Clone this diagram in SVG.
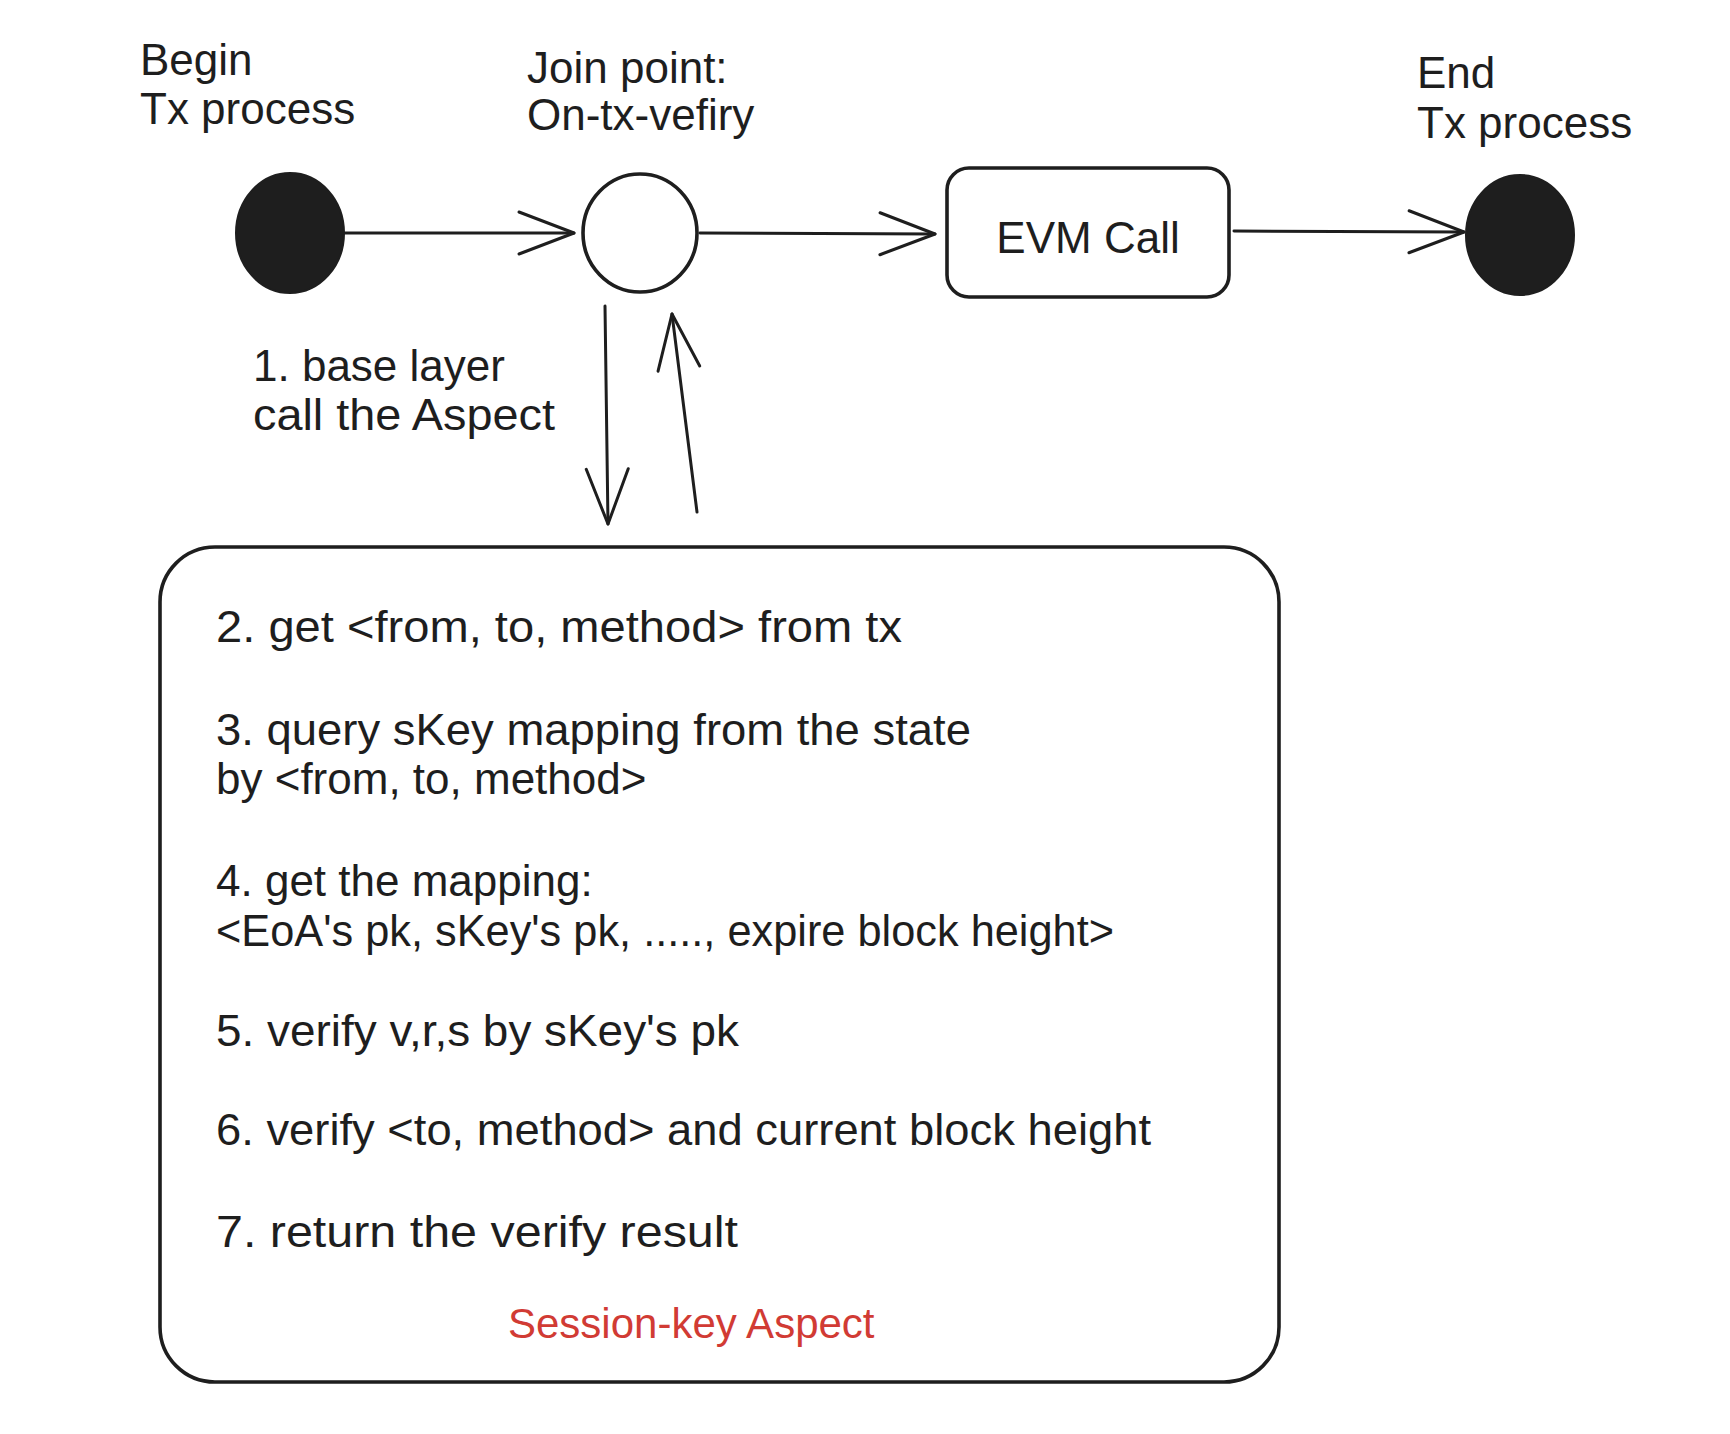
<svg xmlns="http://www.w3.org/2000/svg" width="1730" height="1434" viewBox="0 0 1730 1434">
<style>
text{font-family:"Liberation Sans",Arial,sans-serif;font-size:44px;fill:#1e1e1e}
.red{fill:#d13b34;font-size:42px}
.ln{fill:none;stroke:#1e1e1e;stroke-width:3;stroke-linecap:round}
.box{fill:#fff;stroke:#1e1e1e;stroke-width:3.6}
.dot{fill:#1e1e1e;stroke:#1e1e1e;stroke-width:2}
</style>
<defs>
<marker id="ah" markerUnits="userSpaceOnUse" viewBox="-60 -25 64 50" markerWidth="64" markerHeight="50" refX="0" refY="0" orient="auto">
<path d="M-55,-21 L0,0 L-55,21" fill="none" stroke="#1e1e1e" stroke-width="3" stroke-linecap="round" stroke-linejoin="round"/>
</marker>
</defs>
<rect width="1730" height="1434" fill="#fff"/>
<g id="begin">
<ellipse class="dot" cx="290" cy="233" rx="54" ry="60"/>
<text x="140" y="75">Begin</text>
<text x="140" y="124">Tx process</text>
</g>
<g id="join">
<ellipse class="box" cx="640" cy="233" rx="57" ry="59" stroke-width="4"/>
<text x="527" y="83">Join point:</text>
<text x="527" y="130">On-tx-vefiry</text>
</g>
<g id="evm">
<rect class="box" x="947" y="168" width="282" height="129" rx="22"/>
<text x="1088" y="253" text-anchor="middle">EVM Call</text>
</g>
<g id="end">
<ellipse class="dot" cx="1520" cy="235" rx="54" ry="60"/>
<text x="1417" y="88">End</text>
<text x="1417" y="138">Tx process</text>
</g>
<g id="aspect">
<rect class="box" x="160" y="547" width="1119" height="835" rx="55"/>
<text x="216" y="642" textLength="686" lengthAdjust="spacingAndGlyphs">2. get &lt;from, to, method&gt; from tx</text>
<text x="216" y="745" textLength="755" lengthAdjust="spacingAndGlyphs">3. query sKey mapping from the state</text>
<text x="216" y="794">by &lt;from, to, method&gt;</text>
<text x="216" y="896">4. get the mapping:</text>
<text x="216" y="946" textLength="898" lengthAdjust="spacingAndGlyphs">&lt;EoA's pk, sKey's pk, ....., expire block height&gt;</text>
<text x="216" y="1046" textLength="523" lengthAdjust="spacingAndGlyphs">5. verify v,r,s by sKey's pk</text>
<text x="216" y="1145" textLength="935" lengthAdjust="spacingAndGlyphs">6. verify &lt;to, method&gt; and current block height</text>
<text x="216" y="1247" textLength="522" lengthAdjust="spacingAndGlyphs">7. return the verify result</text>
<text class="red" x="508" y="1338">Session-key Aspect</text>
</g>
<g id="connectors">
<path class="ln" d="M345,233 L574,233" marker-end="url(#ah)"/>
<path class="ln" d="M700,233 L935,234" marker-end="url(#ah)"/>
<path class="ln" d="M1234,231 L1464,232" marker-end="url(#ah)"/>
<path class="ln" d="M605,306 L608,524" marker-end="url(#ah)"/>
<path class="ln" d="M697,512 L672,314" marker-end="url(#ah)"/>
<text x="253" y="381">1. base layer</text>
<text x="253" y="430" textLength="302" lengthAdjust="spacingAndGlyphs">call the Aspect</text>
</g>
</svg>
